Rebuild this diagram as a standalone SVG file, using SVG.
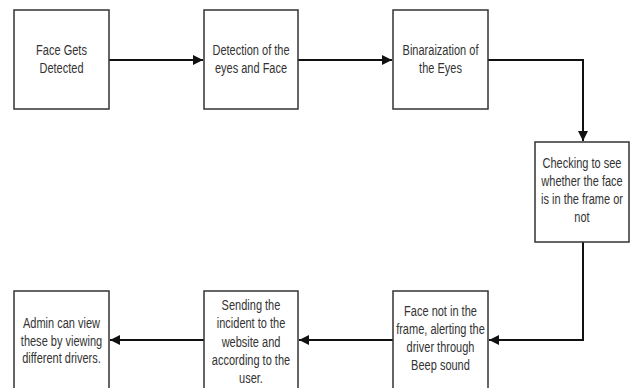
<svg xmlns="http://www.w3.org/2000/svg" width="635" height="388" viewBox="0 0 635 388">
<style>
.box{fill:#fff;stroke:#333;stroke-width:1.5}
.t{font-family:"Liberation Sans",Arial,sans-serif;font-size:14.5px;fill:#333;text-anchor:middle}
.c{fill:none;stroke:#111;stroke-width:2}
</style>
<defs>
<marker id="ah" viewBox="0 0 10 10" refX="10" refY="5" markerWidth="12" markerHeight="10" markerUnits="userSpaceOnUse" orient="auto">
<path d="M0,0 L10,5 L0,10 Z" fill="#111"/>
</marker>
</defs>
<rect width="635" height="388" fill="#fff"/>
<g id="connectors">
<path class="c" d="M109,60 H203" marker-end="url(#ah)"/>
<path class="c" d="M298,60 H392" marker-end="url(#ah)"/>
<path class="c" d="M488,60 H583 V141" marker-end="url(#ah)"/>
<path class="c" d="M583,242 V340 H489" marker-end="url(#ah)"/>
<path class="c" d="M393,340 H299" marker-end="url(#ah)"/>
<path class="c" d="M204,340 H110" marker-end="url(#ah)"/>
</g>
<g id="n1"><rect class="box" x="14" y="10" width="95" height="99"/>
<g transform="translate(61.5 0) scale(0.76 1)"><text class="t" x="0" y="55">Face Gets</text><text class="t" x="0" y="73">Detected</text></g></g>
<g id="n2"><rect class="box" x="204" y="10" width="94" height="99"/>
<g transform="translate(251 0) scale(0.76 1)"><text class="t" x="0" y="55">Detection of the</text><text class="t" x="0" y="73">eyes and Face</text></g></g>
<g id="n3"><rect class="box" x="393" y="10" width="95" height="99"/>
<g transform="translate(440.5 0) scale(0.76 1)"><text class="t" x="0" y="55">Binaraization of</text><text class="t" x="0" y="73">the Eyes</text></g></g>
<g id="n4"><rect class="box" x="535" y="142" width="94" height="100"/>
<g transform="translate(582 0) scale(0.76 1)"><text class="t" x="0" y="168">Checking to see</text><text class="t" x="0" y="186">whether the face</text><text class="t" x="0" y="204">is in the frame or</text><text class="t" x="0" y="222">not</text></g></g>
<g id="n5"><rect class="box" x="393" y="291" width="95" height="110"/>
<g transform="translate(440.5 0) scale(0.76 1)"><text class="t" x="0" y="316">Face not in the</text><text class="t" x="0" y="334">frame, alerting the</text><text class="t" x="0" y="352">driver through</text><text class="t" x="0" y="370">Beep sound</text></g></g>
<g id="n6"><rect class="box" x="204" y="291" width="94" height="110"/>
<g transform="translate(251 0) scale(0.76 1)"><text class="t" x="0" y="310">Sending the</text><text class="t" x="0" y="328">incident to the</text><text class="t" x="0" y="347">website and</text><text class="t" x="0" y="365">according to the</text><text class="t" x="0" y="383">user.</text></g></g>
<g id="n7"><rect class="box" x="14" y="291" width="95" height="110"/>
<g transform="translate(61.5 0) scale(0.76 1)"><text class="t" x="0" y="328">Admin can view</text><text class="t" x="0" y="346">these by viewing</text><text class="t" x="0" y="363">different drivers.</text></g></g>
</svg>
